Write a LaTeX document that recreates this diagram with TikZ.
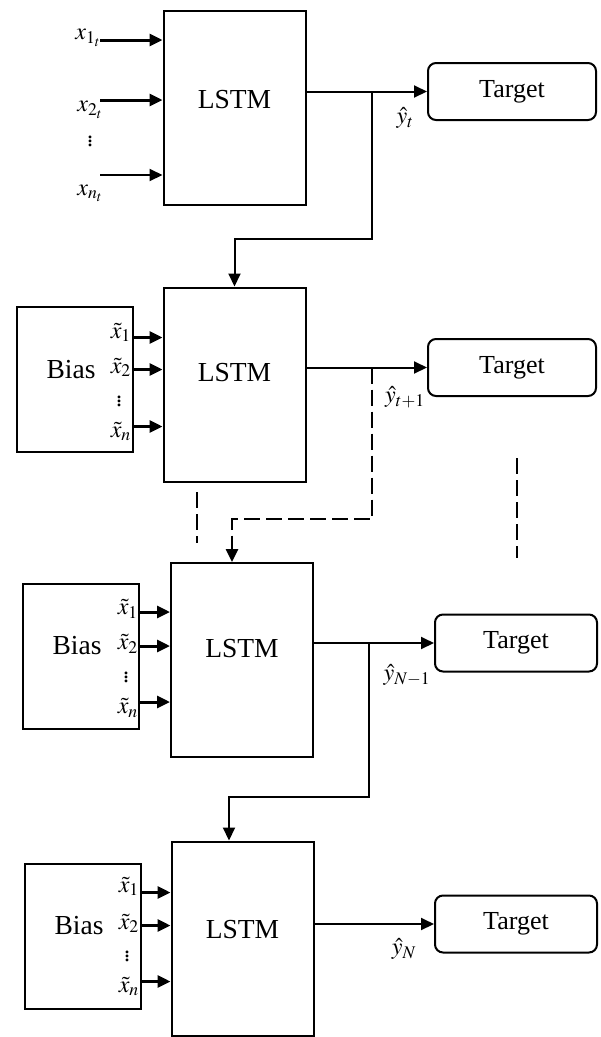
\documentclass[tikz,border=0pt]{standalone}
\usepackage{mathptmx}
\usepackage{fontspec}
\setmainfont{Liberation Serif}
\usetikzlibrary{arrows.meta,calc}

\tikzset{
  lstmbox/.style={draw, line width=2pt, minimum width=142pt, minimum height=194pt, inner sep=0pt},
  biasbox/.style={draw, line width=2pt, minimum width=116pt, minimum height=145pt, inner sep=0pt},
  target/.style={draw, line width=2pt, rounded corners=8pt, minimum width=168pt, minimum height=57pt, inner sep=0pt, font=\fontsize{26}{28}\selectfont},
  bigtext/.style={font=\fontsize{27.5}{30}\selectfont, inner sep=0pt},
  sym/.style={font=\fontsize{24}{26}\selectfont, inner sep=0pt},
  tip/.style={-{Triangle[length=13pt,width=12pt]}},
  link/.style={line width=2pt},
  feed/.style={line width=2.5pt, dash pattern=on 16pt off 6pt},
  input/.style={line width=3pt, -{Triangle[length=13pt,width=12pt]}},
}

\begin{document}
\begin{tikzpicture}[x=1pt,y=-1pt]
\useasboundingbox (0,0) rectangle (601,1037);

% first step
\node[lstmbox] (lstm1) at (234.5,107.5) {};
\node[target] (tgt1) at (512,91.5) {Target};
\coordinate (a11) at (100,40);
\coordinate (a12) at (100,100);
\coordinate (a13) at (100,175);
\node[bigtext] (lt1) at (lstm1.center |- a12) {LSTM};
\node[sym] (x1) at (88,38) {$x_{1_t}$};
\node[sym] (x2) at (90,110) {$x_{2_t}$};
\node[sym] (xd) at (90,138) {$\vdots$};
\node[sym] (xn) at (90,193) {$x_{n_t}$};
\draw[input] (a11) -- (a11 -| lstm1.west);
\draw[input] (a12) -- (a12 -| lstm1.west);
\draw[input, line width=2pt] (a13) -- (a13 -| lstm1.west);
\draw[link, tip] (lstm1.east |- tgt1.west) -- (tgt1.west);
\node[sym] (y1) at (405,118) {$\hat{y}_t$};

% second step
\node[lstmbox] (lstm2) at (234.5,384.5) {};
\node[biasbox] (bias2) at (75,379.5) {};
\node[target] (tgt2) at (512,367.5) {Target};
\coordinate (b21) at ($(lstm2.north west)+(0,51)$);
\coordinate (b22) at ($(lstm2.north west)+(0,83)$);
\coordinate (b23) at ($(lstm2.north west)+(0,140)$);
\node[bigtext] (lt2) at ($(lstm2.center |- b22)+(0,3)$) {LSTM};
\node[bigtext] (bt2) at ($(bias2.west |- b22)+(55,0)$) {Bias};
\node[sym, anchor=east] (xt21) at ($(bias2.east |- b21)+(-3,-5)$) {$\tilde{x}_1$};
\node[sym, anchor=east] (xt22) at ($(bias2.east |- b22)+(-3,-2)$) {$\tilde{x}_2$};
\node[sym] (xt2d) at ($(bias2.east |- b22)!0.5!(bias2.east |- b23)+(-15,0)$) {$\vdots$};
\node[sym, anchor=east] (xt2n) at ($(bias2.east |- b23)+(-3,5)$) {$\tilde{x}_n$};
\draw[input] (bias2.east |- b21) -- (b21);
\draw[input] (bias2.east |- b22) -- (b22);
\draw[input] (bias2.east |- b23) -- (b23);
\draw[link, tip] (lstm2.east |- tgt2.west) -- (tgt2.west);
\node[sym] (y2) at (405,397) {$\hat{y}_{t+1}$};

\coordinate (fb1) at (372,239);
\draw[link, tip] (fb1 |- tgt1.west) -- (fb1) -| (lstm2.north);

% third step
\node[lstmbox] (lstm3) at (242,660) {};
\node[biasbox] (bias3) at (81,656.5) {};
\node[target, minimum width=162pt] (tgt3) at (516,643) {Target};
\coordinate (b31) at ($(lstm3.north west)+(0,50)$);
\coordinate (b32) at ($(lstm3.north west)+(0,84)$);
\coordinate (b33) at ($(lstm3.north west)+(0,140)$);
\node[bigtext] (lt3) at ($(lstm3.center |- b32)+(0,3)$) {LSTM};
\node[bigtext] (bt3) at ($(bias3.west |- b32)+(55,0)$) {Bias};
\node[sym, anchor=east] (xt31) at ($(bias3.east |- b31)+(-2,-3)$) {$\tilde{x}_1$};
\node[sym, anchor=east] (xt32) at ($(bias3.east |- b32)+(-2,-2)$) {$\tilde{x}_2$};
\node[sym] (xt3d) at ($(bias3.east |- b32)!0.5!(bias3.east |- b33)+(-14,0)$) {$\vdots$};
\node[sym, anchor=east] (xt3n) at ($(bias3.east |- b33)+(-2,6)$) {$\tilde{x}_n$};
\draw[input] (bias3.east |- b31) -- (b31);
\draw[input] (bias3.east |- b32) -- (b32);
\draw[input] (bias3.east |- b33) -- (b33);
\draw[link, tip] (lstm3.east |- tgt3.west) -- (tgt3.west);
\node[sym] (y3) at (407,675) {$\hat{y}_{N-1}$};

\coordinate (fb2) at (372,519);
\draw[feed, tip] (fb2 |- tgt2.west) -- (fb2) -| ($(lstm3.north)+(-10,0)$);
\draw[feed] (197,492) -- (197,543); % skipped steps
\draw[feed, line width=2pt] (517,458) -- (517,558);

% last step
\node[lstmbox] (lstm4) at (242.5,938.5) {};
\node[biasbox] (bias4) at (83,936) {};
\node[target, minimum width=162pt] (tgt4) at (516,924) {Target};
\coordinate (b41) at ($(lstm4.north west)+(0,52)$);
\coordinate (b42) at ($(lstm4.north west)+(0,85)$);
\coordinate (b43) at ($(lstm4.north west)+(0,141)$);
\node[bigtext] (lt4) at ($(lstm4.center |- b42)+(0,4)$) {LSTM};
\node[bigtext] (bt4) at ($(bias4.west |- b42)+(55,0)$) {Bias};
\node[sym, anchor=east] (xt41) at ($(bias4.east |- b41)+(-3,-6)$) {$\tilde{x}_1$};
\node[sym, anchor=east] (xt42) at ($(bias4.east |- b42)+(-3,-2)$) {$\tilde{x}_2$};
\node[sym] (xt4d) at ($(bias4.east |- b42)!0.5!(bias4.east |- b43)+(-15,0)$) {$\vdots$};
\node[sym, anchor=east] (xt4n) at ($(bias4.east |- b43)+(-3,5)$) {$\tilde{x}_n$};
\draw[input] (bias4.east |- b41) -- (b41);
\draw[input] (bias4.east |- b42) -- (b42);
\draw[input] (bias4.east |- b43) -- (b43);
\draw[link, tip] (lstm4.east |- tgt4.west) -- (tgt4.west);
\node[sym] (y4) at (404,949) {$\hat{y}_N$};

\coordinate (fb3) at (369,797);
\draw[link, tip] (fb3 |- tgt3.west) -- (fb3) -| ($(lstm4.north)+(-13.5,0)$);

\end{tikzpicture}
\end{document}
